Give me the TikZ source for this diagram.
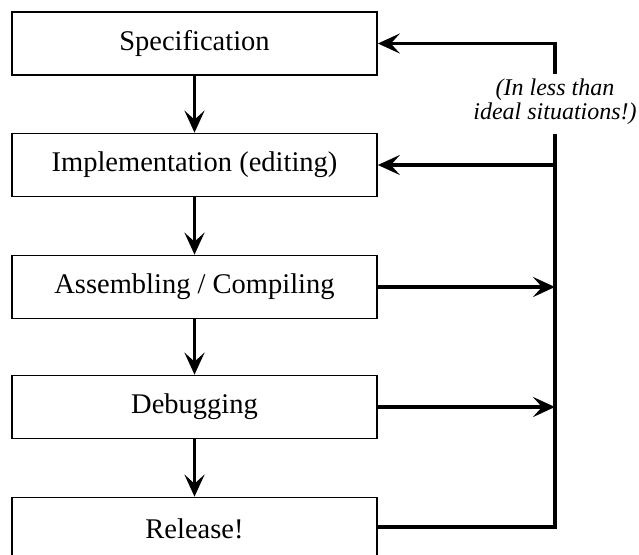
\documentclass[tikz,border=0pt]{standalone}
\usepackage{fontspec}
\setmainfont{Liberation Serif}
\usetikzlibrary{arrows.meta}
\tikzset{
  stepbox/.style={draw, line width=1.7pt, minimum width=365pt, minimum height=63pt, inner sep=0pt, font=\fontsize{28.5}{30}\selectfont},
  arr/.style={line width=3.8pt, -{Stealth[length=22pt, width=20pt, inset=9pt]}},
  fb/.style={line width=3.8pt},
  notetext/.style={font=\fontsize{24}{24}\selectfont\itshape, align=center, inner sep=0pt}
}
\begin{document}
\begin{tikzpicture}[x=1pt,y=-1pt]
\useasboundingbox (0,0) rectangle (639,554);
\clip (0,0) rectangle (639,554);
\node[stepbox] (spec) at (194.5,43.5) {Specification};
\node[stepbox] (impl) at (194.5,165) {Implementation (editing)};
\node[stepbox] (asm)  at (194.5,287) {Assembling / Compiling};
\node[stepbox] (dbg)  at (194.5,407) {Debugging};
\node[stepbox] (rel)  at (194.5,529) {Release!};
\node[notetext] (note) at (555,102) {(In less than\\ideal situations!)};
\coordinate (gtop) at (555,74);
\coordinate (gbot) at (555,134);
\coordinate (rb) at (555,527);
\draw[arr] (spec.south) -- (impl.north);
\draw[arr] (impl.south) -- (asm.north);
\draw[arr] (asm.south) -- (dbg.north);
\draw[arr] (dbg.south) -- (rel.north);
\draw[fb] (gtop) -- (gtop |- spec.east);
\draw[arr] ([xshift=1.9pt]gtop |- spec.east) -- (spec.east);
\draw[fb] (rel.east |- rb) -- (rb) -- (gbot);
\draw[arr] (gbot |- impl.east) -- (impl.east);
\draw[arr] (asm.east) -- (asm.east -| rb);
\draw[arr] (dbg.east) -- (dbg.east -| rb);
\end{tikzpicture}
\end{document}
